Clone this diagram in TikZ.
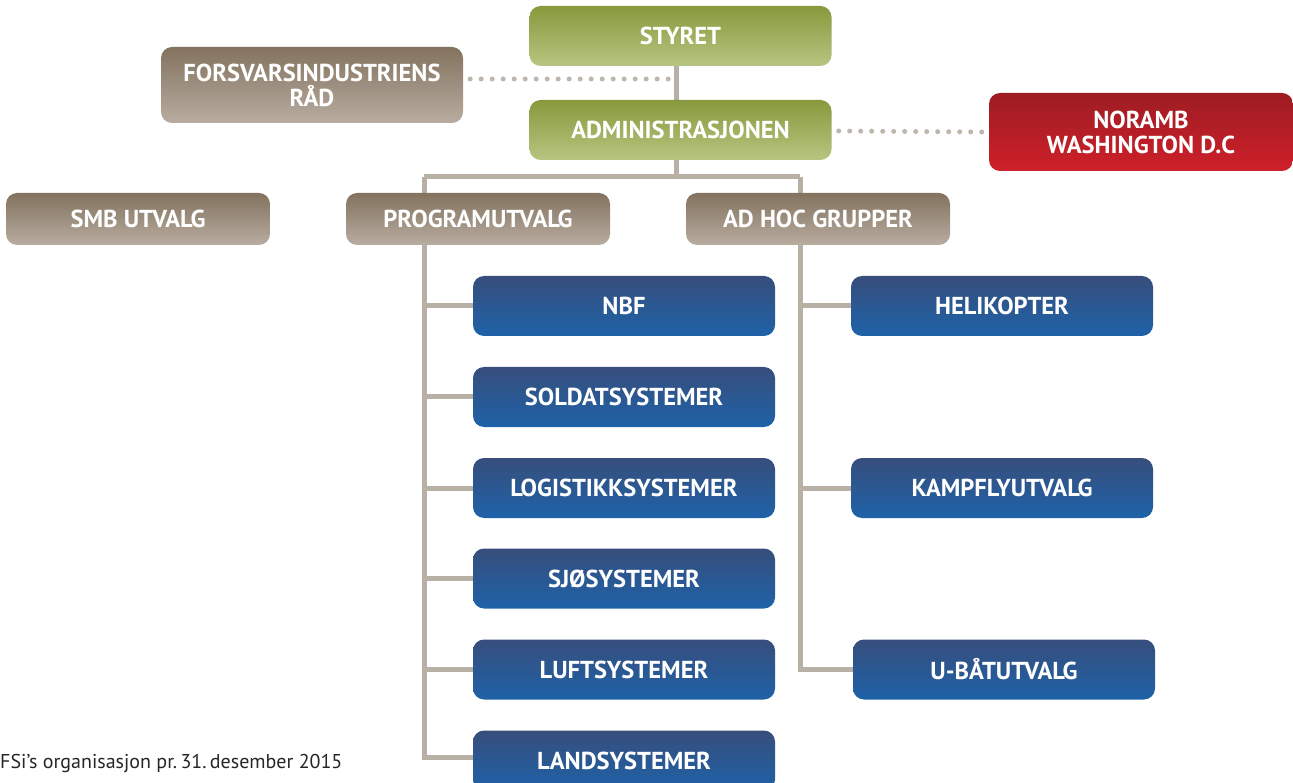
\documentclass[tikz,border=0pt]{standalone}
\usepackage{fontspec}
\setmainfont{PT Sans}
\begin{document}
\begin{tikzpicture}[x=1pt,y=-1pt,
  box/.style={rounded corners=11pt, inner sep=0pt, minimum width=302pt, minimum height=60pt,
    text=white, font=\fontsize{24.5}{25}\selectfont\bfseries, align=center},
  greenbox/.style={box, top color=green1, bottom color=green2},
  brownbox/.style={box, top color=brown1, bottom color=brown2},
  bluebox/.style={box, top color=blue1, bottom color=blue2},
  redbox/.style={box, top color=red1, bottom color=red2},
  conn/.style={draw=linec, line width=5pt},
  dots/.style={draw=dotc, line width=5pt, line cap=round, dash pattern=on 0pt off 11pt}
]
\definecolor{green1}{HTML}{88993D}
\definecolor{green2}{HTML}{B6C681}
\definecolor{brown1}{HTML}{83725E}
\definecolor{brown2}{HTML}{B8ADA1}
\definecolor{blue1}{HTML}{374E7C}
\definecolor{blue2}{HTML}{1E62A8}
\definecolor{red1}{HTML}{9E1C23}
\definecolor{red2}{HTML}{CE2029}
\definecolor{linec}{HTML}{B9B0A5}
\definecolor{dotc}{HTML}{BDB6AC}
\useasboundingbox (0,0) rectangle (1293,783);

% connector coordinates
\coordinate (s) at (676,36);
\coordinate (top) at (676,177);
\coordinate (lefttop) at (424,177);
\coordinate (righttop) at (800,177);
\coordinate (fdot) at (676,79);
\path (424,306) coordinate (l1) (424,397) coordinate (l2) (424,488) coordinate (l3)
      (424,578) coordinate (l4) (424,669) coordinate (l5) (424,757) coordinate (l6)
      (800,306) coordinate (r1) (800,488) coordinate (r2) (800,669) coordinate (r3);

% lines first (behind boxes)
\draw[conn] (s) -- (top);
\draw[conn] (lefttop) -- (righttop);
\draw[conn] (lefttop) -- (l6) -- ++(56,0);
\draw[conn] (righttop) -- (r3) -- ++(56,0);
\foreach \i in {1,...,5} {\draw[conn] (l\i) -- ++(56,0);}
\foreach \i in {1,2} {\draw[conn] (r\i) -- ++(56,0);}

\node[greenbox] (styret) at (680.5,36) {STYRET};
\node[greenbox] (admin) at (680.5,130) {ADMINISTRASJONEN};
\node[brownbox, minimum height=76pt, text depth=-3pt] (frad) at (312,85) {FORSVARSINDUSTRIENS\\RÅD};
\node[redbox, minimum height=78pt, minimum width=304pt] (noramb) at (1141,132) {NORAMB\\WASHINGTON D.C};
\node[brownbox, minimum width=264pt, minimum height=52pt] (smb) at (138,219) {SMB UTVALG};
\node[brownbox, minimum width=264pt, minimum height=52pt] (prog) at (478,219) {PROGRAMUTVALG};
\node[brownbox, minimum width=264pt, minimum height=52pt] (adhoc) at (818,219) {AD HOC GRUPPER};

\draw[dots] (frad.east) ++(7,-6) -- (fdot);
\draw[dots] (admin.east) ++(7,1) -- ([xshift=-4pt]noramb.west);

\node[bluebox] (nbf) at (624,306) {NBF};
\node[bluebox] (sold) at (624,397) {SOLDATSYSTEMER};
\node[bluebox] (logi) at (624,488) {LOGISTIKKSYSTEMER};
\node[bluebox] (sjo) at (624,578.5) {SJØSYSTEMER};
\node[bluebox] (luft) at (624,669.5) {LUFTSYSTEMER};
\node[bluebox] (land) at (624,760.5) {LANDSYSTEMER};

\node[bluebox] (heli) at (1002,306) {HELIKOPTER};
\node[bluebox] (kamp) at (1002,488) {KAMPFLYUTVALG};
\node[bluebox] (ubat) at (1004,669.5) {U-BÅTUTVALG};

\node[anchor=base west, inner sep=0pt, font=\fontsize{20}{22}\selectfont, text=black!85] (cap) at (0,768) {FSi’s organisasjon pr.\,31.\,desember 2015};
\end{tikzpicture}
\end{document}
